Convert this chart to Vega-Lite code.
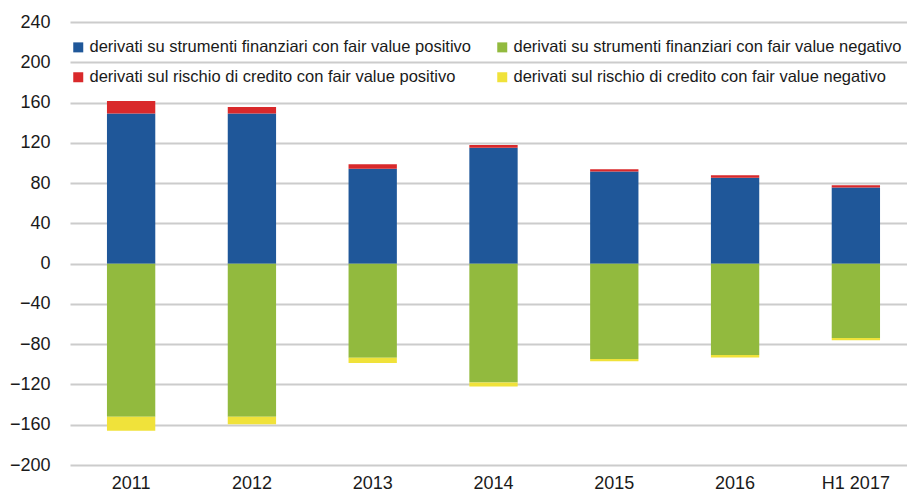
{
  "$schema": "https://vega.github.io/schema/vega-lite/v6.json",
  "autosize": {"type": "none"},
  "padding": {"left": 70, "top": 22, "right": 0, "bottom": 28},
  "width": 847,
  "height": 443,
  "background": "white",
  "data": {"values": [
    {"anno": "2011", "serie": "derivati su strumenti finanziari con fair value positivo", "valore": 149.0, "ord": 1},
    {"anno": "2011", "serie": "derivati su strumenti finanziari con fair value negativo", "valore": -152.0, "ord": 1},
    {"anno": "2011", "serie": "derivati sul rischio di credito con fair value positivo", "valore": 12.5, "ord": 2},
    {"anno": "2011", "serie": "derivati sul rischio di credito con fair value negativo", "valore": -14.0, "ord": 2},
    {"anno": "2012", "serie": "derivati su strumenti finanziari con fair value positivo", "valore": 149.0, "ord": 1},
    {"anno": "2012", "serie": "derivati su strumenti finanziari con fair value negativo", "valore": -152.0, "ord": 1},
    {"anno": "2012", "serie": "derivati sul rischio di credito con fair value positivo", "valore": 6.5, "ord": 2},
    {"anno": "2012", "serie": "derivati sul rischio di credito con fair value negativo", "valore": -7.5, "ord": 2},
    {"anno": "2013", "serie": "derivati su strumenti finanziari con fair value positivo", "valore": 94.3, "ord": 1},
    {"anno": "2013", "serie": "derivati su strumenti finanziari con fair value negativo", "valore": -93.6, "ord": 1},
    {"anno": "2013", "serie": "derivati sul rischio di credito con fair value positivo", "valore": 4.4, "ord": 2},
    {"anno": "2013", "serie": "derivati sul rischio di credito con fair value negativo", "valore": -5.0, "ord": 2},
    {"anno": "2014", "serie": "derivati su strumenti finanziari con fair value positivo", "valore": 115.2, "ord": 1},
    {"anno": "2014", "serie": "derivati su strumenti finanziari con fair value negativo", "valore": -118.0, "ord": 1},
    {"anno": "2014", "serie": "derivati sul rischio di credito con fair value positivo", "valore": 2.7, "ord": 2},
    {"anno": "2014", "serie": "derivati sul rischio di credito con fair value negativo", "valore": -4.0, "ord": 2},
    {"anno": "2015", "serie": "derivati su strumenti finanziari con fair value positivo", "valore": 91.4, "ord": 1},
    {"anno": "2015", "serie": "derivati su strumenti finanziari con fair value negativo", "valore": -94.6, "ord": 1},
    {"anno": "2015", "serie": "derivati sul rischio di credito con fair value positivo", "valore": 2.3, "ord": 2},
    {"anno": "2015", "serie": "derivati sul rischio di credito con fair value negativo", "valore": -2.4, "ord": 2},
    {"anno": "2016", "serie": "derivati su strumenti finanziari con fair value positivo", "valore": 85.4, "ord": 1},
    {"anno": "2016", "serie": "derivati su strumenti finanziari con fair value negativo", "valore": -90.7, "ord": 1},
    {"anno": "2016", "serie": "derivati sul rischio di credito con fair value positivo", "valore": 2.4, "ord": 2},
    {"anno": "2016", "serie": "derivati sul rischio di credito con fair value negativo", "valore": -2.6, "ord": 2},
    {"anno": "H1 2017", "serie": "derivati su strumenti finanziari con fair value positivo", "valore": 75.5, "ord": 1},
    {"anno": "H1 2017", "serie": "derivati su strumenti finanziari con fair value negativo", "valore": -73.8, "ord": 1},
    {"anno": "H1 2017", "serie": "derivati sul rischio di credito con fair value positivo", "valore": 2.4, "ord": 2},
    {"anno": "H1 2017", "serie": "derivati sul rischio di credito con fair value negativo", "valore": -2.4, "ord": 2}
  ]},
  "mark": {"type": "bar"},
  "encoding": {
    "x": {
      "field": "anno", "type": "nominal", "sort": null,
      "scale": {"paddingInner": 0.6, "paddingOuter": 0.306},
      "axis": {"title": null, "labelAngle": 0, "ticks": false, "domain": false, "grid": false,
               "labelFontSize": 18, "labelPadding": 9, "labelColor": "#1a1a1a", "labelFont": "Liberation Sans"}
    },
    "y": {
      "field": "valore", "type": "quantitative", "stack": "zero",
      "scale": {"domain": [-200, 240], "nice": false, "zero": false},
      "axis": {"title": null, "values": [-200, -160, -120, -80, -40, 0, 40, 80, 120, 160, 200, 240],
               "ticks": false, "domain": false, "grid": true, "gridColor": "#cccccc", "gridWidth": 2,
               "labelFontSize": 18, "labelPadding": 20, "labelColor": "#1a1a1a", "labelFont": "Liberation Sans"}
    },
    "color": {
      "field": "serie", "type": "nominal",
      "scale": {
        "domain": [
          "derivati su strumenti finanziari con fair value positivo",
          "derivati su strumenti finanziari con fair value negativo",
          "derivati sul rischio di credito con fair value positivo",
          "derivati sul rischio di credito con fair value negativo"
        ],
        "range": ["#1f5799", "#92ba3e", "#d9292b", "#f0e23a"]
      },
      "legend": {
        "title": null, "orient": "none", "legendX": 0, "legendY": 17, "columns": 2,
        "direction": "horizontal",
        "symbolType": "square", "symbolSize": 100, "symbolStrokeWidth": 0, "symbolOpacity": 1,
        "labelFontSize": 16.5, "labelFont": "Liberation Sans", "labelColor": "#1a1a1a",
        "labelOffset": 3, "labelLimit": 600, "columnPadding": 22, "rowPadding": 13, "padding": 0
      }
    },
    "order": {"field": "ord", "type": "quantitative"}
  },
  "config": {"view": {"stroke": null}}
}
